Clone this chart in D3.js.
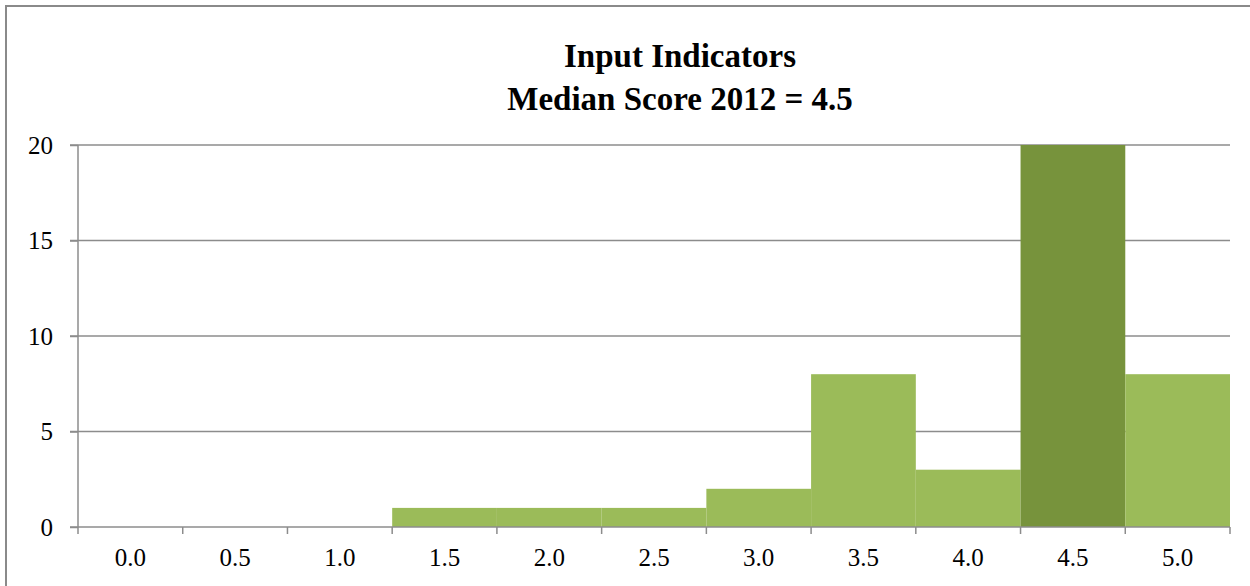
<!DOCTYPE html>
<html>
<head>
<meta charset="utf-8">
<script src="https://cdn.jsdelivr.net/npm/d3@7"></script>
<style>
  html, body { margin: 0; padding: 0; background: #fff; }
  svg { display: block; }
</style>
</head>
<body>
<div id="chart"></div>
<script>
// data
var scores = ["0.0", "0.5", "1.0", "1.5", "2.0", "2.5", "3.0", "3.5", "4.0", "4.5", "5.0"];
var counts = [0, 0, 0, 1, 1, 1, 2, 8, 3, 20, 8];
var median_score = "4.5";
var y_ticks = [0, 5, 10, 15, 20];
var title_lines = ["Input Indicators", "Median Score 2012 = 4.5"];

var width = 1250, height = 586;
// (window.top is reserved, so plot_* names)
var plot_left = 78, plot_right = 1230, plot_top = 145, plot_bottom = 527;

var svg = d3.select("#chart").append("svg")
  .attr("width", width)
  .attr("height", height);

// outer frame (right / bottom edges fall outside the picture)
svg.append("rect")
  .attr("x", 6).attr("y", 6)
  .attr("width", 1260).attr("height", 600)
  .attr("fill", "none")
  .attr("stroke", "#8a8a8a")
  .attr("stroke-width", 2);

var x = d3.scaleBand()
  .domain(scores)
  .range([plot_left, plot_right])
  .padding(0);

var y = d3.scaleLinear()
  .domain([0, 20])
  .range([plot_bottom, plot_top]);

// gridlines
svg.append("g").selectAll("line")
  .data(y_ticks.filter(function(d){ return d > 0; }))
  .enter().append("line")
  .attr("x1", plot_left - 8).attr("x2", plot_right)
  .attr("y1", function(d){ return y(d); })
  .attr("y2", function(d){ return y(d); })
  .attr("stroke", "#8c8c8c")
  .attr("stroke-width", 1.5);

// bars
svg.append("g").selectAll("rect")
  .data(counts)
  .enter().append("rect")
  .attr("x", function(d, i){ return x(scores[i]); })
  .attr("width", x.bandwidth())
  .attr("y", function(d){ return y(d); })
  .attr("height", function(d){ return plot_bottom - y(d); })
  .attr("fill", function(d, i){ return scores[i] == median_score ? "#77933C" : "#9BBB59"; });

// y axis
var yAxis = svg.append("g")
  .attr("transform", "translate(" + plot_left + ",0)")
  .call(d3.axisLeft(y).tickValues(y_ticks).tickSize(8).tickPadding(17).tickFormat(d3.format("d")));
yAxis.select(".domain").attr("stroke", "#8c8c8c").attr("stroke-width", 1.5)
  .attr("d", "M0," + plot_top + "V" + plot_bottom);
yAxis.selectAll(".tick line").attr("stroke", "#8c8c8c").attr("stroke-width", 1.5);
yAxis.selectAll(".tick text")
  .attr("fill", "#000")
  .style("font-family", "'Liberation Serif', 'Times New Roman', serif")
  .style("font-size", "25px");

// x axis, ticks on the band edges
var xg = svg.append("g").attr("transform", "translate(0," + plot_bottom + ")");
xg.append("line")
  .attr("x1", plot_left - 8).attr("x2", plot_right)
  .attr("stroke", "#8c8c8c").attr("stroke-width", 1.5);
var edges = scores.map(function(s){ return x(s); }).concat([plot_right]);
xg.selectAll("line.tk")
  .data(edges)
  .enter().append("line")
  .attr("class", "tk")
  .attr("x1", function(d){ return d; })
  .attr("x2", function(d){ return d; })
  .attr("y1", 0).attr("y2", 7)
  .attr("stroke", "#8c8c8c").attr("stroke-width", 1.5);
xg.selectAll("text")
  .data(scores)
  .enter().append("text")
  .attr("x", function(d){ return x(d) + x.bandwidth() / 2; })
  .attr("y", 39)
  .attr("text-anchor", "middle")
  .style("font-family", "'Liberation Serif', 'Times New Roman', serif")
  .style("font-size", "25px")
  .text(function(d){ return d; });

// title
svg.append("g").selectAll("text")
  .data(title_lines)
  .enter().append("text")
  .attr("x", 680)
  .attr("y", function(d, i){ return 67 + i * 43; })
  .attr("text-anchor", "middle")
  .style("font-family", "'Liberation Serif', 'Times New Roman', serif")
  .style("font-weight", "bold")
  .style("font-size", "33px")
  .text(function(d){ return d; });
</script>
</body>
</html>
